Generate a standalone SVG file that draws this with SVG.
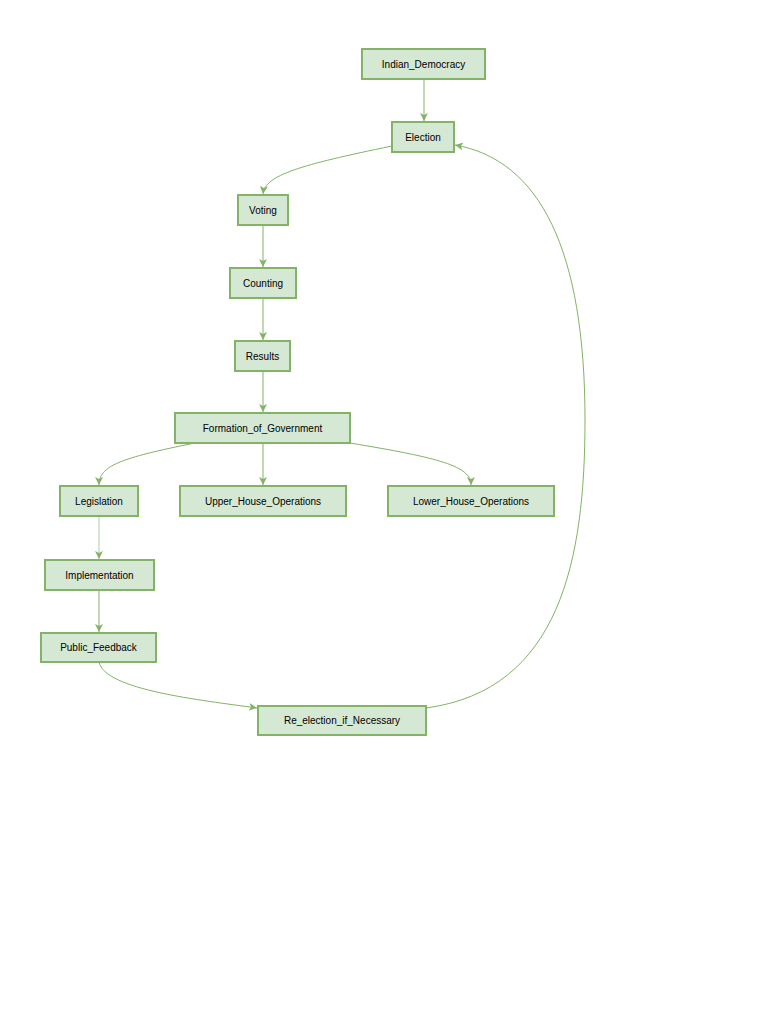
<svg xmlns="http://www.w3.org/2000/svg" width="768" height="1024" viewBox="0 0 768 1024">
<style>
.n{fill:#d5e8d4;stroke:#82b366;stroke-width:2}
.t{font-family:"Liberation Sans",Arial,sans-serif;font-size:10px;fill:#000;text-anchor:middle;dominant-baseline:central}
.e{fill:none;stroke:#82b366;stroke-width:1}
</style>
<defs><marker id="a" markerWidth="10" markerHeight="10" refX="8" refY="4" orient="auto" markerUnits="userSpaceOnUse"><path d="M0,0 L8,4 L0,8 L2,4 Z" fill="#82b366"/></marker></defs>
<rect width="768" height="1024" fill="#fff"/>
<g id="edges">
<path class="e" marker-end="url(#a)" d="M424,79 L424,121"/>
<path class="e" marker-end="url(#a)" d="M392,146 C300,165 265,175 263,194"/>
<path class="e" marker-end="url(#a)" d="M263,225 L263,267"/>
<path class="e" marker-end="url(#a)" d="M263,298 L263,340"/>
<path class="e" marker-end="url(#a)" d="M263,371 L263,412"/>
<path class="e" marker-end="url(#a)" d="M195,443 C120,458 99,466 99,485"/>
<path class="e" marker-end="url(#a)" d="M263,443 L263,485"/>
<path class="e" marker-end="url(#a)" d="M350,443 C440,458 471,466 471,485"/>
<path class="e" marker-end="url(#a)" d="M99,516 L99,559" style="stroke:#b0d0a0"/>
<path class="e" marker-end="url(#a)" d="M99,590 L99,632"/>
<path class="e" marker-end="url(#a)" d="M99,662 C105,690 200,700 257,708"/>
<path class="e" marker-end="url(#a)" d="M426,708 C560,690 585,560 585,420 C585,250 540,160 455,145"/>
</g>
<g id="Indian_Democracy"><rect class="n" x="362" y="49" width="123" height="30"/><text class="t" x="423.5" y="64">Indian_Democracy</text></g>
<g id="Election"><rect class="n" x="392" y="122" width="62" height="30"/><text class="t" x="423" y="137">Election</text></g>
<g id="Voting"><rect class="n" x="238" y="195" width="50" height="30"/><text class="t" x="263" y="210">Voting</text></g>
<g id="Counting"><rect class="n" x="230" y="268" width="66" height="30"/><text class="t" x="263" y="283">Counting</text></g>
<g id="Results"><rect class="n" x="235" y="341" width="55" height="30"/><text class="t" x="262.5" y="356">Results</text></g>
<g id="Formation_of_Government"><rect class="n" x="175" y="413" width="175" height="30"/><text class="t" x="262.5" y="428">Formation_of_Government</text></g>
<g id="Legislation"><rect class="n" x="60" y="486" width="78" height="30"/><text class="t" x="99" y="501">Legislation</text></g>
<g id="Upper_House_Operations"><rect class="n" x="180" y="486" width="166" height="30"/><text class="t" x="263" y="501">Upper_House_Operations</text></g>
<g id="Lower_House_Operations"><rect class="n" x="388" y="486" width="166" height="30"/><text class="t" x="471" y="501">Lower_House_Operations</text></g>
<g id="Implementation"><rect class="n" x="45" y="560" width="109" height="30"/><text class="t" x="99.5" y="575">Implementation</text></g>
<g id="Public_Feedback"><rect class="n" x="41" y="633" width="115" height="29"/><text class="t" x="98.5" y="647.5">Public_Feedback</text></g>
<g id="Re_election_if_Necessary"><rect class="n" x="258" y="706" width="168" height="29"/><text class="t" x="342" y="720.5">Re_election_if_Necessary</text></g>
</svg>
